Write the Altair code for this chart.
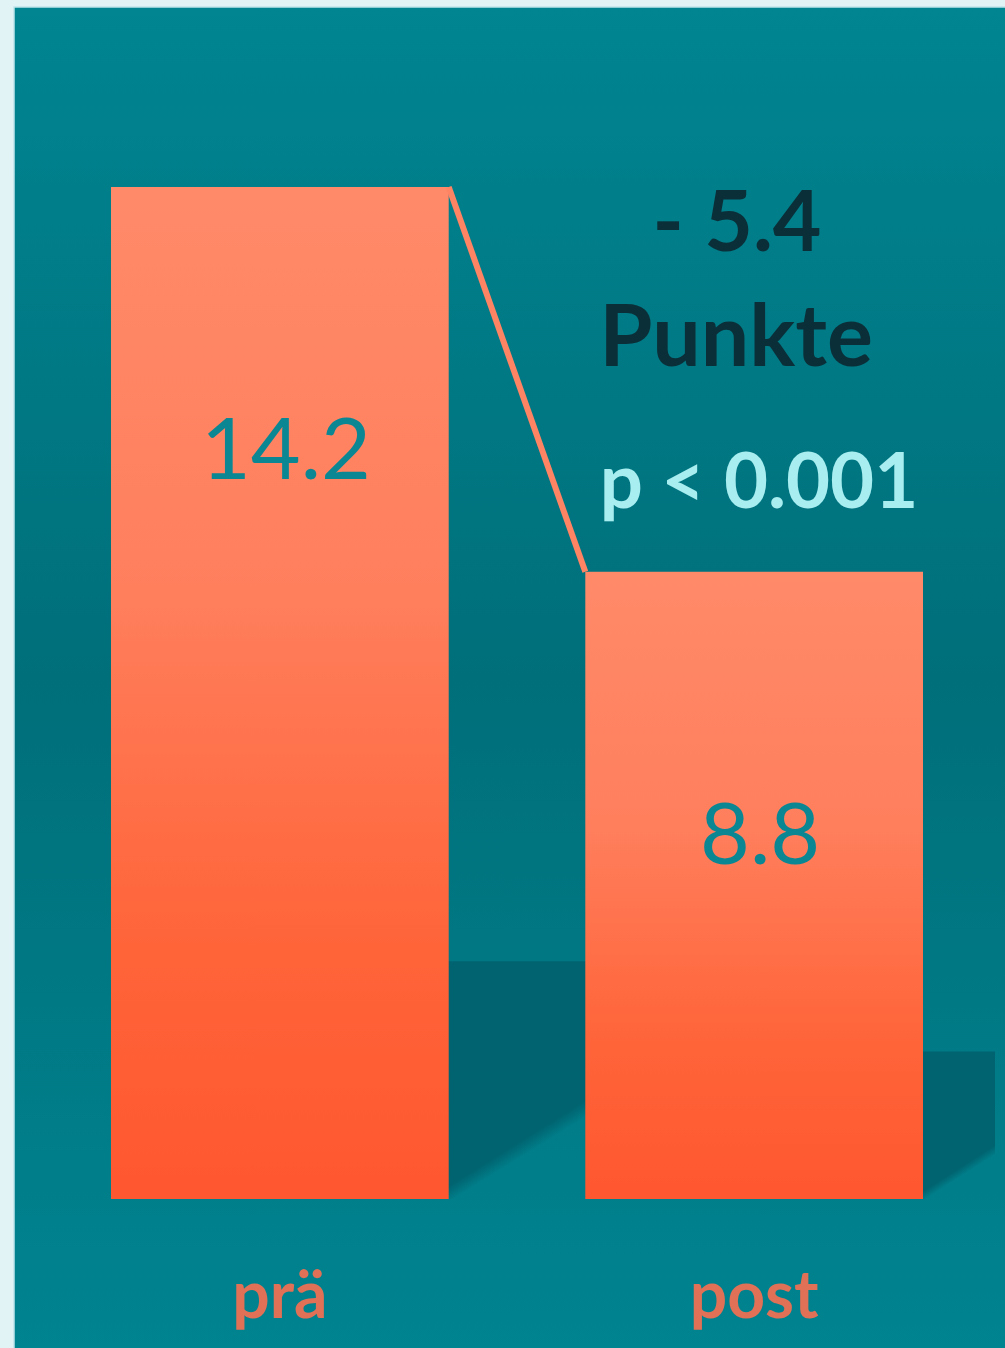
import altair as alt
import pandas as pd

# ---- data ----
categories = ["prä", "post"]
values = [14.2, 8.8]
value_labels = ["14.2", "8.8"]
diff_label = "- 5.4"
unit_label = "Punkte"
p_label = "p < 0.001"

W, H = 1005, 1348

bars_df = pd.DataFrame({"cat": categories, "value": values, "label": value_labels})
link_df = pd.DataFrame({"from": [categories[0]], "to": [categories[1]],
                        "v1": [values[0]], "v2": [values[1]]})
shadow1_df = pd.DataFrame({"from": [categories[0]], "to": [categories[1]], "value": [values[0]]})
shadow2_df = pd.DataFrame({"from": [categories[1]], "value": [values[1]]})
one = pd.DataFrame({"a": [0]})

xscale = alt.Scale(domain=categories, range=[111, 923], paddingInner=0.288, paddingOuter=0)
yscale = alt.Scale(domain=[0, 14.2], range=[1199, 187], nice=False, zero=True)

bar_grad = alt.Gradient(gradient="linear", x1=0, y1=0, x2=0, y2=1, stops=[
    alt.GradientStop(color="#ff8a69", offset=0),
    alt.GradientStop(color="#ff7f5d", offset=0.4),
    alt.GradientStop(color="#ff6439", offset=0.75),
    alt.GradientStop(color="#ff5730", offset=1)])

bg_grad = alt.Gradient(gradient="linear", x1=0, y1=0, x2=0, y2=1, stops=[
    alt.GradientStop(color="#008591", offset=0),
    alt.GradientStop(color="#006f7a", offset=0.5),
    alt.GradientStop(color="#008490", offset=1)])

def shadow_grad(gx, t):
    return alt.Gradient(gradient="linear", x1=0, y1=0, x2=gx, y2=1, stops=[
        alt.GradientStop(color="rgba(0,98,110,0)", offset=0),
        alt.GradientStop(color="rgba(0,98,110,0.95)", offset=0.06),
        alt.GradientStop(color="rgba(0,98,110,0.95)", offset=t - 0.03),
        alt.GradientStop(color="rgba(0,98,110,0)", offset=t + 0.025),
        alt.GradientStop(color="rgba(0,98,110,0)", offset=1)])

background = alt.Chart(one).mark_rect(
    fill=bg_grad, stroke="#bfe5ea", strokeWidth=1.5
).encode(x=alt.value(14), x2=alt.value(W + 2), y=alt.value(7), y2=alt.value(H + 2))

shadow1 = alt.Chart(shadow1_df).transform_calculate(
    top="datum.value * 0.235", base="0"
).mark_rect(fill=shadow_grad(0.538, 0.832)).encode(
    x=alt.X("from:N", bandPosition=0.9, scale=xscale, axis=None),
    x2=alt.X2("to", bandPosition=0.1),
    y=alt.Y("top:Q", scale=yscale, axis=None),
    y2=alt.Y2("base:Q"))

shadow2 = alt.Chart(shadow2_df).transform_calculate(
    top="datum.value * 0.235", base="0"
).mark_rect(fill=shadow_grad(0.46, 0.933)).encode(
    x=alt.X("from:N", bandPosition=0.9, scale=xscale, axis=None),
    x2=alt.value(995),
    y=alt.Y("top:Q", scale=yscale, axis=None),
    y2=alt.Y2("base:Q"))

bars = alt.Chart(bars_df).mark_bar(fill=bar_grad).encode(
    x=alt.X("cat:N", scale=xscale, axis=None, sort=categories),
    y=alt.Y("value:Q", scale=yscale, axis=None))

link = alt.Chart(link_df).mark_rule(color="#ff8464", strokeWidth=6).encode(
    x=alt.X("from:N", bandPosition=1, scale=xscale, axis=None),
    x2=alt.X2("to", bandPosition=0),
    y=alt.Y("v1:Q", scale=yscale, axis=None),
    y2=alt.Y2("v2"))

value_text = alt.Chart(bars_df).mark_text(
    font="Lato", fontSize=86, color="#0b8794", baseline="middle", align="center",
    dy=266, dx=6
).encode(
    x=alt.X("cat:N", scale=xscale, axis=None),
    y=alt.Y("value:Q", scale=yscale, axis=None),
    text="label:N")

cat_text = alt.Chart(bars_df).mark_text(
    font="Lato", fontSize=66, fontWeight="bold", color="#e07056",
    baseline="alphabetic", align="center"
).encode(
    x=alt.X("cat:N", scale=xscale, axis=None),
    y=alt.value(1318),
    text="cat:N")

def note(text, x, y, size, color):
    return alt.Chart(pd.DataFrame({"t": [text]})).mark_text(
        font="Lato", fontSize=size, fontWeight="bold", color=color,
        baseline="alphabetic", align="center"
    ).encode(x=alt.value(x), y=alt.value(y), text="t:N")

n1 = note(diff_label, 737, 251, 84, "#0a2f38")
n2 = note(unit_label, 736, 366, 86, "#0a2f38")
n3 = note(p_label, 759, 508, 76, "#a8eef0")

chart = alt.layer(
    background, shadow1, shadow2, bars, link, value_text, cat_text, n1, n2, n3
).properties(
    width=W, height=H, padding=0, autosize=alt.AutoSizeParams(type="none"),
    background="#e1f3f4"
).configure_view(stroke=None)

chart.save("out.html", embed_options={"renderer": "svg", "actions": False})
